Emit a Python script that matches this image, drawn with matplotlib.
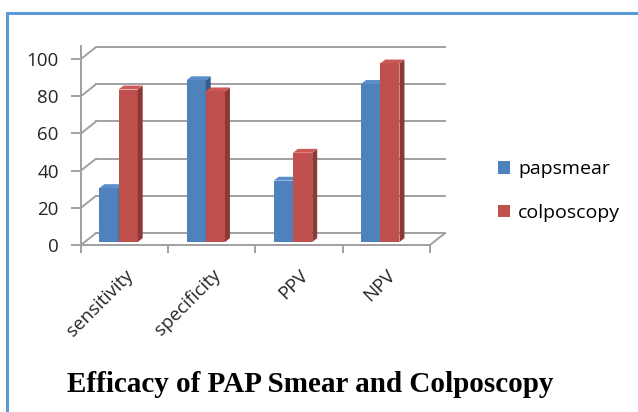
import matplotlib
matplotlib.use("Agg")
import matplotlib.pyplot as plt
from matplotlib.patches import Polygon, Rectangle, Patch
import numpy as np

# --------------------

categories = ["sensitivity", "specificity", "PPV", "NPV"]
papsmear = [29, 87, 33, 85]
colposcopy = [82, 81, 48, 96]
yticks = [0, 20, 40, 60, 80, 100]

series = [("papsmear", papsmear, "#4F81BD", "#385D8A", "#5B8ECB"),
          ("colposcopy", colposcopy, "#C0504D", "#8C3836", "#CB5A57")]

# ---------------------

plt.rcParams["font.family"] = ["Open Sans", "DejaVu Sans"]

fig = plt.figure(figsize = (6.38, 4.12), dpi = 100)

W, H = 638, 412
# front axis: x 81..430 px for 4 categories, y 0 at 245 px, 100 at 59 px
xmax, ymax = 4.2, 107
ax_w = 349 * xmax / 4
ax_h = 186 * ymax / 100
ax = fig.add_axes([81 / W, (H - 245) / H, ax_w / W, ax_h / H])
ax.set_xlim(0, xmax)
ax.set_ylim(0, ymax)

dx, dy = 0.172, 6.4          # depth of the wall/floor in data units
grid_c = "#a0a0a0"

# back wall gridlines and left wall slants
for v in yticks:
    ax.plot([dx, len(categories) + dx], [v + dy, v + dy], color = grid_c, lw = 1.4, clip_on = False)
    ax.plot([0, dx], [v, v + dy], color = grid_c, lw = 1.4, clip_on = False)
ax.plot([len(categories), len(categories) + dx], [0, dy], color = grid_c, lw = 1.4, clip_on = False)

# bars with a little 3D look
bw = 0.22
bx, by = 0.057, 2.1
base = 1.6
for k, (name, vals, c_front, c_side, c_top) in enumerate(series):
    x = np.arange(len(categories)) + 0.21 + k * bw
    ax.bar(x, vals, width = bw, bottom = base, align = "edge", color = c_front,
           edgecolor = "none", zorder = 3, clip_on = False)
    for xi, v in zip(x, vals):
        top = base + v
        side = Polygon([(xi + bw, base), (xi + bw + bx, base + by), (xi + bw + bx, top + by), (xi + bw, top)],
                       closed = True, facecolor = c_side, edgecolor = "none", zorder = 3, clip_on = False)
        cap = Polygon([(xi, top), (xi + bx, top + by), (xi + bw + bx, top + by), (xi + bw, top)],
                      closed = True, facecolor = c_top, edgecolor = "none", zorder = 3, clip_on = False)
        ax.add_patch(side)
        ax.add_patch(cap)

# axes styling
for s in ["top", "right"]:
    ax.spines[s].set_visible(False)
for s in ["left", "bottom"]:
    ax.spines[s].set_color(grid_c)
    ax.spines[s].set_linewidth(1.4)
ax.spines["bottom"].set_bounds(0, len(categories))

ax.set_yticks(yticks)
ax.set_yticklabels([str(v) for v in yticks], fontsize = 13.5, color = "#262626")
ax.tick_params(axis = "y", length = 7, color = grid_c, width = 1.4, pad = 9)

ax.set_xticks(np.arange(len(categories) + 1), minor = True)
ax.set_xticks(np.arange(len(categories)) + 0.5)
ax.set_xticklabels(categories, rotation = 45, ha = "right", rotation_mode = "anchor",
                   fontsize = 13.5, color = "#262626")
ax.tick_params(axis = "x", which = "major", length = 0, pad = 15)
ax.tick_params(axis = "x", which = "minor", length = 6, color = grid_c, width = 1.4)

# legend
handles = [Patch(facecolor = s[2], edgecolor = "none") for s in series]
fig.legend(handles, [s[0] for s in series], loc = "upper left",
           bbox_to_anchor = (480 / W, 1 - 143 / H), frameon = False,
           fontsize = 14, handlelength = 0.62, handleheight = 0.62,
           handletextpad = 0.45, labelspacing = 1.3)

# title
fig.text(310 / W, 1 - 385 / H, "Efficacy of PAP Smear and Colposcopy", ha = "center", va = "center",
         fontsize = 21, fontweight = "bold", family = ["Liberation Serif", "DejaVu Serif"])

# outer frame
fig.patches.append(Rectangle((7 / W, -0.05), 1.1, 1 - 13 / H + 0.05, transform = fig.transFigure,
                             fill = False, edgecolor = "#5B9BD5", lw = 2.2))

plt.savefig("out.png", dpi = 100)
